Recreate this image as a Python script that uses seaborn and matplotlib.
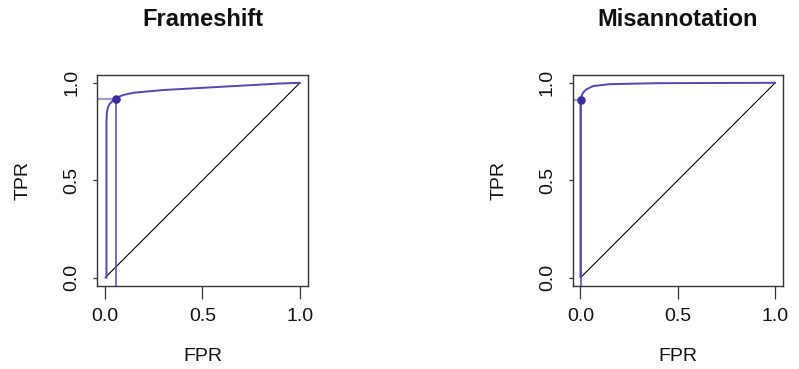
import matplotlib
matplotlib.use("Agg")
import matplotlib.pyplot as plt
import seaborn as sns
import pandas as pd

sns.set_theme(style="white")
plt.rcParams['font.family'] = ['Liberation Sans', 'DejaVu Sans']

# ---- data ----
titles = ["Frameshift", "Misannotation"]
tick_vals = [0.0, 0.5, 1.0]
tick_labels = ["0.0", "0.5", "1.0"]

fs_fpr = [0.005, 0.007, 0.007, 0.009, 0.014, 0.022, 0.037, 0.054, 0.075, 0.096, 0.147, 0.30, 0.552, 0.75, 0.89, 1.0]
fs_tpr = [0.0, 0.0, 0.80, 0.845, 0.872, 0.890, 0.906, 0.918, 0.930, 0.938, 0.949, 0.963, 0.977, 0.988, 0.996, 1.0]
fs_cut = (0.054, 0.918)

mis_fpr = [0.0, 0.0, 0.0015, 0.006, 0.013, 0.03, 0.064, 0.149, 0.40, 0.70, 1.0]
mis_tpr = [0.0, 0.90, 0.914, 0.935, 0.949, 0.966, 0.983, 0.993, 0.998, 0.999, 1.0]
mis_cut = (0.0015, 0.914)

diag = [0.0, 1.0]

curves = [(fs_fpr, fs_tpr, fs_cut), (mis_fpr, mis_tpr, mis_cut)]

# ---- figure ----
W, H = 799, 369
fig = plt.figure(figsize=(W / 100, H / 100), dpi=100)
boxes = [(97.3, 307.7), (572.7, 783.0)]
top_px, bot_px = 75.0, 285.5

curve_col = "#5247AE"
light_col = "#A29BD6"
dot_col = "#3B2E9C"

for (x0, x1), title, (fpr, tpr, cut) in zip(boxes, titles, curves):
    ax = fig.add_axes([x0 / W, 1 - bot_px / H, (x1 - x0) / W, (bot_px - top_px) / H])
    lo, hi = -0.04, 1.04
    ax.set_xlim(lo, hi)
    ax.set_ylim(lo, hi)

    # diagonal
    sns.lineplot(x=diag, y=diag, ax=ax, color="black", lw=0.8, estimator=None, sort=False)
    # cutoff guide lines
    sns.lineplot(x=[lo, cut[0]], y=[cut[1], cut[1]], ax=ax, color=light_col, lw=1.6,
                 estimator=None, sort=False)
    sns.lineplot(x=[cut[0], cut[0]], y=[lo, cut[1]], ax=ax, color=curve_col, lw=1.1,
                 estimator=None, sort=False)
    # ROC curve
    df = pd.DataFrame({"FPR": fpr, "TPR": tpr})
    sns.lineplot(data=df, x="FPR", y="TPR", ax=ax, color=curve_col, lw=1.4,
                 estimator=None, sort=False)
    sns.scatterplot(x=[cut[0]], y=[cut[1]], ax=ax, color=dot_col, s=38, edgecolor=dot_col,
                    linewidth=0, zorder=5)

    ax.set_xlabel("")
    ax.set_ylabel("")
    ax.set_xticks(tick_vals)
    ax.set_xticklabels(tick_labels)
    ax.set_yticks(tick_vals)
    ax.set_yticklabels(tick_labels, rotation=90, va="center")
    ax.tick_params(axis="x", direction="out", length=9, width=0.9, color="#333333",
                   pad=7, labelsize=14, bottom=True, labelcolor="#111111")
    ax.tick_params(axis="y", direction="out", length=3.2, width=0.9, color="#333333",
                   pad=9, labelsize=14, left=True, labelcolor="#111111")
    for sp in ax.spines.values():
        sp.set_visible(True)
        sp.set_color("#333333")
        sp.set_linewidth(1.0)

    ax.text(0.5, -0.297, "FPR", transform=ax.transAxes, ha="center", va="top",
            fontsize=14, color="#111111")
    ax.text(-0.351, 0.5, "TPR", transform=ax.transAxes, ha="center", va="center",
            rotation=90, fontsize=14, color="#111111")
    ax.text(0.5, 1.0 + (top_px - 19.5) / (bot_px - top_px), title, transform=ax.transAxes,
            ha="center", va="center", fontsize=17, fontweight="bold", color="#111111")

fig.savefig("out.png", dpi=100)
